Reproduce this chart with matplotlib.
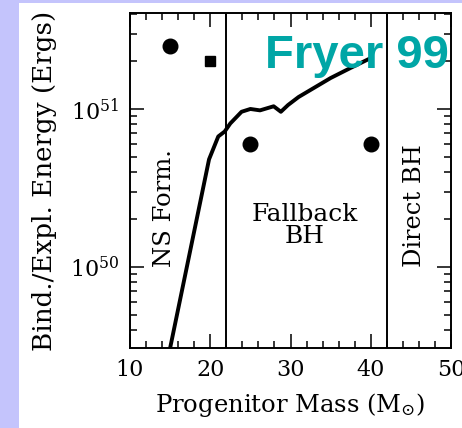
import matplotlib
matplotlib.use("Agg")
import matplotlib.pyplot as plt
from matplotlib.patches import Rectangle
from matplotlib.ticker import FixedLocator, LogLocator, NullFormatter

# binding / explosion energy vs progenitor mass (Fryer 1999)
curve_mass = [15.0, 19.85, 21.0, 21.8, 22.5, 23.9, 25.0,
              26.2, 27.9, 28.8, 29.7, 31.0, 35.0, 37.5, 40.0]
curve_energy = [3.07e49, 4.8e50, 6.7e50, 7.2e50, 8.1e50,
                9.6e50, 1.0e51, 0.98e51, 1.04e51, 0.96e51, 1.06e51, 1.19e51,
                1.57e51, 1.82e51, 2.1e51]

circle_mass = [15, 25, 40]
circle_energy = [2.5e51, 6.0e50, 6.0e50]
square_mass = [20]
square_energy = [2.0e51]

boundaries = [22, 42]

plt.rcParams['font.family'] = 'DejaVu Serif'
plt.rcParams['mathtext.fontset'] = 'dejavuserif'

fig = plt.figure(figsize=(4.62, 4.28), dpi=100)
fig.patch.set_facecolor('#c4c4fc')
fig.patches.append(Rectangle((19 / 462, 0), 1, 1 - 3 / 428, transform=fig.transFigure,
                             facecolor='white', edgecolor='none', zorder=-10))

ax = fig.add_axes([130 / 462, 1 - 348 / 428, 321 / 462, 335 / 428])
ax.set_facecolor('none')
ax.set_xlim(10, 50)
ax.set_yscale('log')
ax.set_ylim(3.07e49, 4.05e51)

ax.plot(curve_mass, curve_energy, color='black', lw=2.8, solid_joinstyle='round')
ax.plot(circle_mass, circle_energy, 'o', color='black', ms=10.5)
ax.plot(square_mass, square_energy, 's', color='black', ms=7)
for b in boundaries:
    ax.axvline(b, color='black', lw=1.4)

ax.xaxis.set_major_locator(FixedLocator([10, 20, 30, 40, 50]))
ax.xaxis.set_minor_locator(FixedLocator(range(10, 51, 2)))
ax.yaxis.set_major_locator(FixedLocator([1e50, 1e51]))
ax.yaxis.set_minor_locator(LogLocator(base=10, subs=range(2, 10)))
ax.yaxis.set_minor_formatter(NullFormatter())
ax.set_yticklabels([r'$10^{50}$', r'$10^{51}$'])
ax.tick_params(which='both', direction='in', top=True, right=True, width=1.1,
               labelsize=16, color='black')
ax.tick_params(which='major', length=10)
ax.tick_params(which='minor', length=5)
ax.tick_params(axis='x', pad=8)
ax.tick_params(axis='y', pad=8)
for s in ax.spines.values():
    s.set_linewidth(1.4)

# axis titles
fig.text(290 / 462, 1 - 412 / 428, r'Progenitor Mass (M$_{\odot}$)', fontsize=17.5,
         ha='center', va='baseline')
fig.text(45 / 462, 1 - 181 / 428, 'Bind./Expl. Energy (Ergs)', rotation=90,
         fontsize=18.8, ha='center', va='center')

# regime labels
ax.text(14.3, 10 ** 50.375, 'NS Form.', rotation=90, fontsize=17.5,
        ha='center', va='center')
ax.text(31.8, 10 ** 50.26, 'Fallback\nBH', fontsize=17.9, ha='center',
        va='center', linespacing=0.95)
ax.text(45.4, 10 ** 50.39, 'Direct BH', rotation=90, fontsize=17.4,
        ha='center', va='center')

fig.text(449 / 462, 1 - 68 / 428, 'Fryer 99', fontsize=34, fontweight='bold',
         family='Liberation Sans', color='#00a6a6', ha='right', va='baseline')

fig.savefig('out.png', dpi=100, facecolor=fig.get_facecolor())
